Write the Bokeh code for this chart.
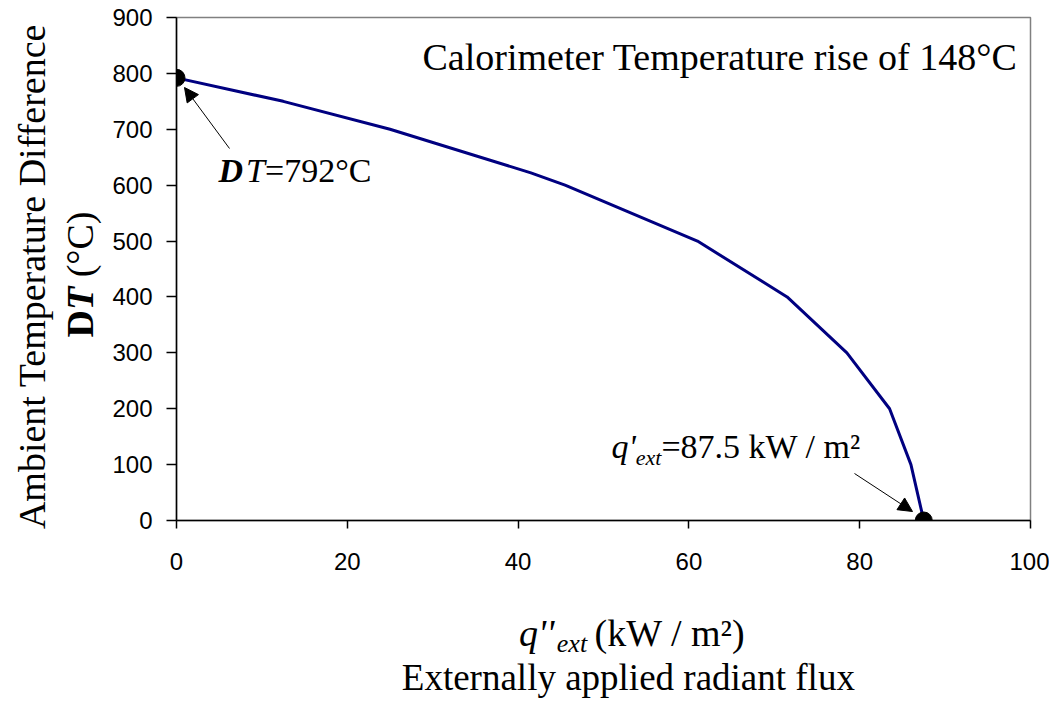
from bokeh.plotting import figure
from bokeh.layouts import row, column
from bokeh.models import Label, Arrow, NormalHead, FixedTicker
from bokeh.embed import file_html
from bokeh.resources import INLINE

# ---- data ----
flux = [0, 12.5, 25, 41.5, 45.5, 61, 71.5, 78.5, 83.5, 86, 87.5]
delta_t = [792, 750, 700, 622, 600, 500, 400, 300, 200, 100, 0]
end_flux = [0, 87.5]
end_dt = [792, 0]
x_ticks = [0, 20, 40, 60, 80, 100]
y_ticks = [0, 100, 200, 300, 400, 500, 600, 700, 800, 900]

SERIF = "Liberation Serif"
SANS = "Liberation Sans"
MID = 0.34  # em-box middle above the alphabetic baseline

# Times-compatible advance widths (per 1000 em) for the glyphs used
W_REG = {' ': 250, '(': 333, ')': 333, 'k': 500, 'W': 944, '/': 278, 'm': 778, '=': 564,
         '.': 250, '°': 400, 'C': 667, 'D': 722, 'T': 611, 'e': 444, 'x': 500, 't': 278,
         'q': 500, "'": 180, '²': 300}
W_IT = {'q': 500, 'e': 444, 'x': 444, 't': 278, 'T': 556, "'": 214, 'D': 722}
W_B = {'D': 722, 'T': 667}
W_BI = {'D': 722, 'T': 611}
TABLES = {"normal": W_REG, "italic": W_IT, "bold": W_B, "bold italic": W_BI}

def text_width(s, size, style):
    t = TABLES[style]
    return sum((500 if ch.isdigit() else t.get(ch, W_REG.get(ch, 500))) for ch in s) * size / 1000.0

# ---- layout geometry (page pixels) ----
TOTAL_W, TOTAL_H = 1049, 700
LEFT_W = 104
MAIN_H = 600
FL, FR, FT, FB = 176, 1030, 17, 520

def X(px):
    return (px - FL) / (FR - FL) * 100.0
def Y(py):
    return (FB - py) / (FB - FT) * 900.0

# ---- main figure ----
p = figure(width=TOTAL_W - LEFT_W, height=MAIN_H, x_range=(0, 100), y_range=(0, 900),
           output_backend="svg", toolbar_location=None,
           min_border_left=FL - LEFT_W, min_border_right=TOTAL_W - FR,
           min_border_top=FT, min_border_bottom=MAIN_H - FB)
p.grid.visible = False
p.outline_line_color = "#808080"
p.outline_line_width = 1.5

for ax in (p.xaxis[0], p.yaxis[0]):
    ax.axis_line_color = "black"
    ax.axis_line_width = 1.5
    ax.major_tick_line_color = "black"
    ax.major_tick_line_width = 1.5
    ax.major_tick_in = 0
    ax.minor_tick_line_color = None
    ax.major_label_text_font = SANS
    ax.major_label_text_font_size = "24px"
    ax.major_label_text_color = "black"
p.xaxis[0].ticker = FixedTicker(ticks=x_ticks)
p.yaxis[0].ticker = FixedTicker(ticks=y_ticks)
p.xaxis[0].major_tick_out = 8
p.yaxis[0].major_tick_out = 10
p.xaxis[0].major_label_standoff = 24
p.yaxis[0].major_label_standoff = 14

p.line(flux, delta_t, line_color="#000080", line_width=3)
p.scatter(end_flux, end_dt, size=17, fill_color="black", line_color="black")

p.add_layout(Arrow(end=NormalHead(size=14, fill_color="black", line_color="black"),
                   x_start=X(229), y_start=Y(148), x_end=X(184), y_end=Y(87),
                   line_color="black", line_width=1))
p.add_layout(Arrow(end=NormalHead(size=14, fill_color="black", line_color="black"),
                   x_start=X(854), y_start=Y(473), x_end=X(912), y_end=Y(511),
                   line_color="black", line_width=1))

def lab(fig, text, x, y, size, style="normal", align="left", angle=0):
    fig.add_layout(Label(x=x, y=y, text=text, text_font=SERIF,
                         text_font_size=f"{size}px", text_font_style=style,
                         text_align=align, text_baseline="middle", angle=angle,
                         angle_units="deg", text_color="black"))

def runs(fig, x0, base, parts, conv=lambda a, b: (a, b)):
    # parts: (text, size, style, baseline shift px, extra gap before px)
    x = x0
    for text, size, style, dy, gap in parts:
        stripped = text.lstrip(" ")
        x += gap + text_width(text[:len(text) - len(stripped)], size, style)
        xx, yy = conv(x, base + dy - MID * size)
        lab(fig, stripped, xx, yy, size, style)
        x += text_width(stripped, size, style)

def parts_width(parts):
    return sum(text_width(t, s, st) + g for t, s, st, _, g in parts)

main_conv = lambda a, b: (X(a), Y(b))

# top annotation
xx, yy = main_conv(1017, 69 - MID * 38)
lab(p, "Calorimeter Temperature rise of 148°C", xx, yy, 38, align="right")

# DT annotation
runs(p, 218, 182, [("D", 34, "bold italic", 0, 0), ("T", 34, "italic", 0, 3),
                   ("=792°C", 34, "normal", 0, 0)], main_conv)

# q' annotation
runs(p, 611, 458, [("q'", 34, "italic", 0, 0), ("ext", 22, "italic", 6, 0),
                   ("=87.5 kW / m²", 34, "normal", 0, 0)], main_conv)

# ---- bottom strip: x-axis title ----
b = figure(width=TOTAL_W - LEFT_W, height=TOTAL_H - MAIN_H, x_range=(LEFT_W, TOTAL_W),
           y_range=(TOTAL_H, MAIN_H), output_backend="svg", toolbar_location=None,
           x_axis_type=None, y_axis_type=None, min_border=0)
b.grid.visible = False
b.outline_line_color = None

xt_parts = [("q''", 38, "italic", 0, 0), (" ext", 26, "italic", 7, 0),
            (" (kW / m²)", 38, "normal", 0, 2)]
runs(b, 604 - parts_width(xt_parts) / 2, 645, xt_parts)
lab(b, "Externally applied radiant flux", 604, 690 - MID * 37, 37, align="center")

# ---- left strip: y-axis title ----
l = figure(width=LEFT_W, height=TOTAL_H, x_range=(0, LEFT_W), y_range=(TOTAL_H, 0),
           output_backend="svg", toolbar_location=None,
           x_axis_type=None, y_axis_type=None, min_border=0)
l.grid.visible = False
l.outline_line_color = None

lab(l, "Ambient Temperature Difference", 44 - MID * 38, 276, 38, align="center", angle=90)
yt_parts = [("D", 38, "bold", 0, 0), ("T", 38, "bold italic", 0, 0), (" (°C)", 38, "normal", 0, 0)]
yy = 274 + parts_width(yt_parts) / 2
for t, s, st, _, g in yt_parts:
    stripped = t.lstrip(" ")
    yy -= text_width(t[:len(t) - len(stripped)], s, st)
    lab(l, stripped, 92 - MID * s, yy, s, st, angle=90)
    yy -= text_width(stripped, s, st)

layout = row(l, column(p, b))
open("out.html", "w").write(file_html(layout, INLINE))
